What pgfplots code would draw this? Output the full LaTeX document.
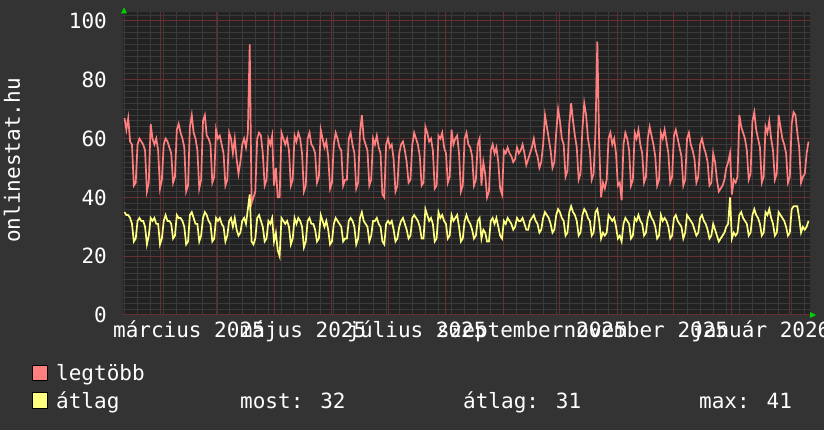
\documentclass[border=0pt]{standalone}
\usepackage{pgfplots}
\pgfplotsset{compat=1.18}
\usepackage{pgfplotstable}
\usepackage{fontspec}
\setmainfont{DejaVu Sans Mono}
\newcommand{\rrd}{\fontsize{21}{25}\selectfont}

\definecolor{canvas}{HTML}{333333}
\definecolor{plotbg}{HTML}{222222}
\definecolor{gridmin}{HTML}{3A3A3A}
\definecolor{gridmaj}{HTML}{643030}
\definecolor{legred}{HTML}{FF7F7F}
\definecolor{legyel}{HTML}{FFFF7F}
\definecolor{arrowgreen}{HTML}{00D000}

% day 0 = 1 March 2025; columns: day, legtobb, atlag
\pgfplotstableread[row sep=\\]{
d r a\\
-19 67 35\\ -18 63 34\\ -17 67 34\\ -16 59 33\\ -15 58 31\\ -14 44 25\\ -13 45 26\\
-12 58 32\\ -11 60 33\\ -10 59 32\\ -9 58 32\\ -8 56 30\\ -7 42 24\\ -6 45 27\\
-5 65 33\\ -4 60 32\\ -3 58 33\\ -2 60 31\\ -1 56 31\\ 0 43 24\\ 1 46 26\\
2 58 32\\ 3 60 34\\ 4 59 32\\ 5 57 32\\ 6 55 31\\ 7 45 26\\ 8 47 27\\
9 63 34\\ 10 65 33\\ 11 62 33\\ 12 60 32\\ 13 57 30\\ 14 42 24\\ 15 44 25\\
16 64 34\\ 17 68 35\\ 18 62 33\\ 19 60 31\\ 20 56 31\\ 21 43 25\\ 22 46 27\\
23 66 33\\ 24 68 35\\ 25 61 34\\ 26 60 32\\ 27 58 31\\ 28 45 25\\ 29 47 26\\
30 63 33\\ 31 60 32\\ 32 61 33\\ 33 58 31\\ 34 55 30\\ 35 44 25\\ 36 46 27\\
37 62 32\\ 38 60 33\\ 39 55 30\\ 40 60 33\\ 41 53 29\\ 42 48 27\\ 43 52 28\\
44 58 32\\ 45 60 33\\ 46 57 31\\ 47 62 36\\ 48 92 41\\ 49 38 25\\ 50 40 24\\
51 42 26\\ 52 60 33\\ 53 62 34\\ 54 61 32\\ 55 55 30\\ 56 44 25\\ 57 46 26\\
58 60 32\\ 59 58 31\\ 60 61 33\\ 61 44 25\\ 62 50 28\\ 63 40 22\\ 64 40 20\\
65 62 33\\ 66 60 32\\ 67 58 31\\ 68 60 32\\ 69 56 30\\ 70 44 24\\ 71 46 26\\
72 61 33\\ 73 59 31\\ 74 62 33\\ 75 60 32\\ 76 55 30\\ 77 42 23\\ 78 44 25\\
79 60 32\\ 80 62 33\\ 81 58 31\\ 82 57 31\\ 83 55 29\\ 84 45 25\\ 85 47 26\\
86 63 34\\ 87 60 32\\ 88 57 30\\ 89 59 32\\ 90 54 29\\ 91 43 24\\ 92 45 25\\
93 58 31\\ 94 62 33\\ 95 60 32\\ 96 57 31\\ 97 56 30\\ 98 44 25\\ 99 46 26\\
100 46 26\\ 101 60 32\\ 102 62 33\\ 103 58 32\\ 104 55 30\\ 105 43 24\\ 106 45 26\\
107 62 33\\ 108 68 35\\ 109 60 32\\ 110 58 31\\ 111 56 30\\ 112 44 25\\ 113 46 27\\
114 60 32\\ 115 58 32\\ 116 61 33\\ 117 57 31\\ 118 55 30\\ 119 41 25\\ 120 40 24\\
121 58 31\\ 122 60 32\\ 123 57 31\\ 124 58 32\\ 125 53 29\\ 126 42 25\\ 127 44 26\\
128 55 30\\ 129 58 32\\ 130 59 33\\ 131 56 31\\ 132 52 29\\ 133 45 26\\ 134 46 27\\
135 58 33\\ 136 62 34\\ 137 60 33\\ 138 58 32\\ 139 54 30\\ 140 44 26\\ 141 45 26\\
142 64 36\\ 143 62 34\\ 144 59 32\\ 145 60 33\\ 146 56 31\\ 147 43 25\\ 148 44 26\\
149 61 35\\ 150 60 33\\ 151 62 34\\ 152 57 32\\ 153 55 31\\ 154 45 26\\ 155 47 27\\
156 63 34\\ 157 58 32\\ 158 60 33\\ 159 61 34\\ 160 55 30\\ 161 42 25\\ 162 44 26\\
163 60 32\\ 164 62 34\\ 165 58 32\\ 166 57 31\\ 167 54 29\\ 168 44 26\\ 169 46 27\\
170 58 32\\ 171 60 33\\ 172 44 26\\ 173 52 29\\ 174 48 28\\ 175 40 25\\ 176 42 25\\
177 56 32\\ 178 58 33\\ 179 55 31\\ 180 57 33\\ 181 52 30\\ 182 43 27\\ 183 41 26\\
184 56 32\\ 185 55 31\\ 186 57 33\\ 187 55 32\\ 188 54 31\\ 189 52 29\\ 190 53 30\\
191 57 33\\ 192 55 32\\ 193 56 32\\ 194 58 33\\ 195 55 31\\ 196 51 29\\ 197 53 29\\
198 55 32\\ 199 57 33\\ 200 60 34\\ 201 56 32\\ 202 54 31\\ 203 50 28\\ 204 52 29\\
205 58 33\\ 206 68 35\\ 207 64 34\\ 208 60 33\\ 209 56 31\\ 210 50 28\\ 211 52 29\\
212 62 34\\ 213 70 36\\ 214 66 35\\ 215 60 33\\ 216 58 32\\ 217 47 27\\ 218 49 28\\
219 65 35\\ 220 72 37\\ 221 66 35\\ 222 61 34\\ 223 57 32\\ 224 46 27\\ 225 48 28\\
226 63 34\\ 227 72 36\\ 228 68 35\\ 229 60 33\\ 230 56 32\\ 231 46 27\\ 232 48 28\\
233 62 35\\ 234 93 36\\ 235 58 32\\ 236 40 26\\ 237 45 28\\ 238 43 27\\ 239 46 28\\
240 60 34\\ 241 62 33\\ 242 58 32\\ 243 60 33\\ 244 55 30\\ 245 44 26\\ 246 45 27\\
247 39 25\\ 248 58 31\\ 249 62 33\\ 250 60 32\\ 251 56 31\\ 252 44 26\\ 253 46 27\\
254 62 33\\ 255 60 32\\ 256 63 34\\ 257 58 32\\ 258 55 31\\ 259 45 27\\ 260 47 28\\
261 60 33\\ 262 64 35\\ 263 61 33\\ 264 58 32\\ 265 54 30\\ 266 44 26\\ 267 46 27\\
268 62 34\\ 269 60 32\\ 270 63 33\\ 271 59 32\\ 272 55 30\\ 273 45 26\\ 274 47 27\\
275 61 33\\ 276 63 34\\ 277 60 32\\ 278 57 31\\ 279 54 30\\ 280 44 26\\ 281 46 28\\
282 60 34\\ 283 62 33\\ 284 58 32\\ 285 56 31\\ 286 53 29\\ 287 45 27\\ 288 47 28\\
289 58 33\\ 290 60 34\\ 291 57 32\\ 292 55 31\\ 293 52 29\\ 294 44 26\\ 295 45 27\\
296 55 31\\ 297 52 29\\ 298 46 27\\ 299 42 25\\ 300 43 26\\ 301 44 27\\ 302 46 28\\
303 50 30\\ 304 52 31\\ 305 55 40\\ 306 41 26\\ 307 46 28\\ 308 45 27\\ 309 47 28\\
310 68 34\\ 311 64 35\\ 312 62 33\\ 313 60 32\\ 314 56 31\\ 315 46 27\\ 316 48 28\\
317 66 34\\ 318 69 36\\ 319 63 34\\ 320 60 33\\ 321 57 31\\ 322 45 27\\ 323 47 28\\
324 64 35\\ 325 62 34\\ 326 66 36\\ 327 60 33\\ 328 56 31\\ 329 46 27\\ 330 48 28\\
331 68 35\\ 332 64 34\\ 333 60 33\\ 334 58 32\\ 335 55 30\\ 336 45 27\\ 337 47 28\\
338 65 36\\ 339 69 37\\ 340 68 37\\ 341 62 37\\ 342 57 33\\ 343 45 28\\ 344 47 30\\
345 48 29\\ 346 55 30\\ 347 59 32\\
}\stats

\begin{document}
\begin{tikzpicture}[x=1pt,y=1pt]
\fill[canvas] (0,0) rectangle (824,430);

\begin{axis}[
    at={(123pt,115pt)}, anchor=south west,
    scale only axis,
    width=687pt, height=303pt,
    xmin=-19.8, xmax=347.8,
    ymin=0, ymax=103.06,
    axis background/.style={fill=plotbg},
    axis line style={draw=none},
    major tick length=0pt, minor tick length=0pt,
    xtick={15.5,76.5,137.5,199,260,321.5},
    xticklabels={{március 2025},{május 2025},{július 2025},{szeptember 2025},{november 2025},{január 2026}},
    ytick={0,20,...,100},
    xticklabel style={font=\rrd, text=white, anchor=base, inner sep=0pt, yshift=-23pt},
    yticklabel style={font=\rrd, text=white, anchor=east, inner sep=0pt, xshift=-16pt},
    /pgf/number format/assume math mode=true,
]
% minor grid: weekly (Mondays) and every 2 units
\pgfplotsinvokeforeach{-19,-12,...,345}{
  \draw[gridmin, line width=1pt] (axis cs:#1,0) -- (axis cs:#1,103.06);
}
\pgfplotsinvokeforeach{2,4,...,102}{
  \draw[gridmin, line width=1pt] (axis cs:-19.8,#1) -- (axis cs:347.8,#1);
}
% major grid: month starts and every 20 units
\pgfplotsinvokeforeach{0,31,61,92,122,153,184,214,245,275,306,337}{
  \draw[gridmaj, line width=1pt] (axis cs:#1,0) -- (axis cs:#1,103.06);
}
\pgfplotsinvokeforeach{0,20,...,100}{
  \draw[gridmaj, line width=1pt] (axis cs:-19.8,#1) -- (axis cs:347.8,#1);
}
\addplot[legred, line width=1.7pt, mark=none] table[x=d, y=r] {\stats};
\addplot[legyel, line width=1.7pt, mark=none] table[x=d, y=a] {\stats};
\end{axis}

% axis arrows
\fill[arrowgreen] (121,416.5) -- (127,416.5) -- (124,422.5) -- cycle;
\fill[arrowgreen] (810,118) -- (810,112) -- (816,115) -- cycle;

% y label
\node[rotate=90, text=white, font=\rrd, inner sep=0pt] at (12,269.5) {onlinestat.hu};

% legend
\filldraw[fill=legred, draw=black, line width=1pt] (32,49) rectangle (47,64);
\filldraw[fill=legyel, draw=black, line width=1pt] (32,21) rectangle (47,37);
\node[anchor=base west, text=white, font=\rrd, inner sep=0pt] at (56,49) {legtöbb};
\node[anchor=base west, text=white, font=\rrd, inner sep=0pt] at (56,21) {átlag};
\node[anchor=base west, text=white, font=\rrd, inner sep=0pt] at (240,21) {most: 32};
\node[anchor=base west, text=white, font=\rrd, inner sep=0pt] at (463,21) {átlag: 31};
\node[anchor=base west, text=white, font=\rrd, inner sep=0pt] at (699,21) {max: 41};

\pgfresetboundingbox
\path[use as bounding box] (0,0) rectangle (824,430);
\end{tikzpicture}
\end{document}
